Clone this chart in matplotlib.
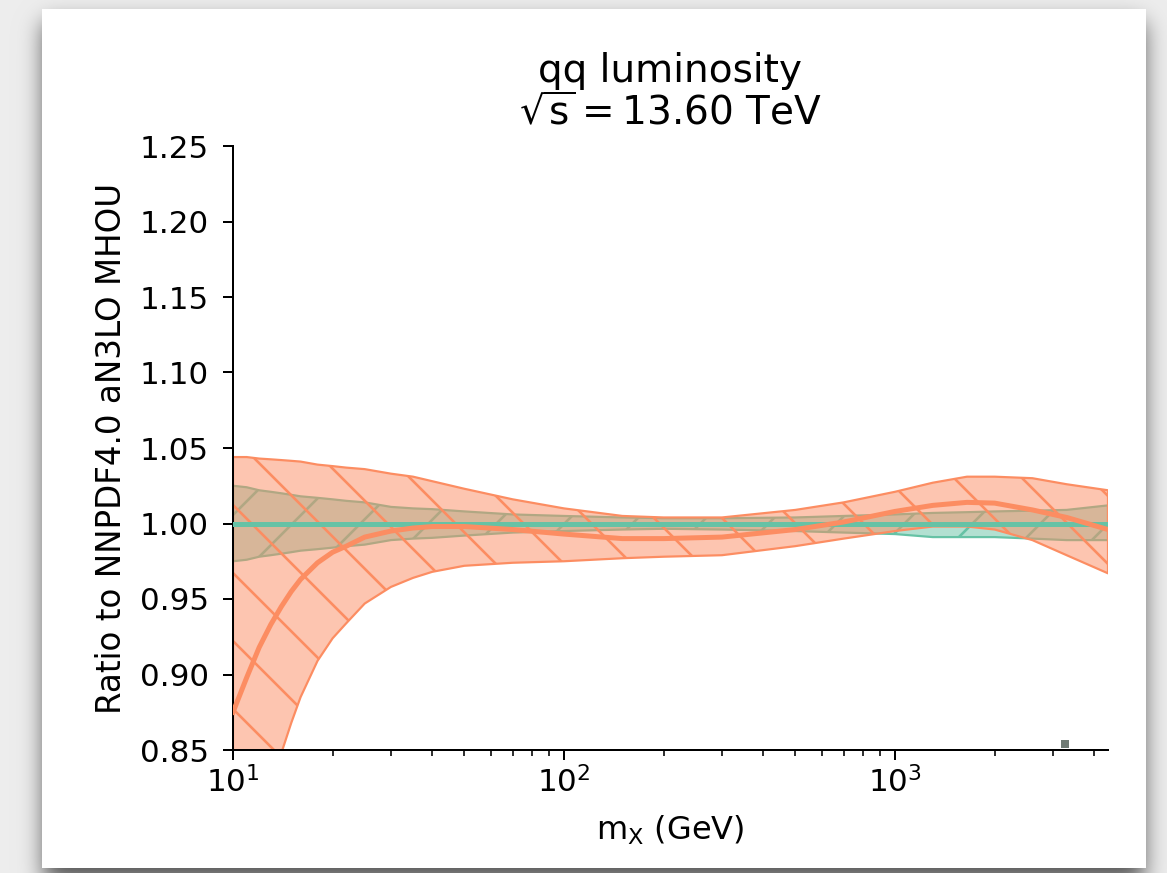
import math
import matplotlib
matplotlib.use('Agg')
import matplotlib.pyplot as plt
import numpy as np
from matplotlib.colors import to_rgba
from matplotlib.patches import Rectangle
from matplotlib.ticker import FormatStrFormatter

# invariant mass grid (GeV)
mx = np.array([10, 11, 12, 13, 14, 15, 16, 18, 20, 22, 25, 30, 35, 40, 50, 70, 100, 150,
               200, 300, 500, 700, 1000, 1300, 1650, 2000, 2600, 3300, 4400])

# reference set: ratio to itself, so central value is 1
ref_cv = np.ones(len(mx))
ref_hi = np.array([1.025, 1.024, 1.022, 1.021, 1.020, 1.019, 1.018, 1.017, 1.016, 1.015,
                   1.014, 1.011, 1.010, 1.0095, 1.008, 1.006, 1.005, 1.004, 1.0035, 1.0035,
                   1.004, 1.005, 1.006, 1.007, 1.0075, 1.008, 1.0085, 1.009, 1.012])
ref_lo = np.array([0.975, 0.976, 0.978, 0.979, 0.980, 0.981, 0.982, 0.983, 0.984, 0.985,
                   0.986, 0.989, 0.990, 0.9905, 0.992, 0.994, 0.995, 0.996, 0.9965, 0.996,
                   0.995, 0.994, 0.993, 0.991, 0.991, 0.991, 0.990, 0.989, 0.989])

# comparison set
alt_cv = np.array([0.875, 0.898, 0.918, 0.933, 0.945, 0.955, 0.963, 0.974, 0.981, 0.985,
                   0.991, 0.995, 0.997, 0.998, 0.998, 0.996, 0.993, 0.990, 0.990, 0.991,
                   0.996, 1.001, 1.008, 1.012, 1.014, 1.0135, 1.009, 1.004, 0.996])
alt_hi = np.array([1.044, 1.044, 1.043, 1.0425, 1.042, 1.0415, 1.041, 1.039, 1.038, 1.037,
                   1.036, 1.033, 1.031, 1.028, 1.023, 1.016, 1.010, 1.005, 1.004, 1.004,
                   1.009, 1.014, 1.021, 1.027, 1.031, 1.031, 1.030, 1.026, 1.022])
alt_lo = np.array([0.706, 0.752, 0.793, 0.824, 0.848, 0.868, 0.885, 0.909, 0.924, 0.934,
                   0.947, 0.958, 0.964, 0.968, 0.972, 0.974, 0.975, 0.977, 0.978, 0.979,
                   0.985, 0.990, 0.995, 0.998, 0.998, 0.996, 0.989, 0.979, 0.967])

yticks = [0.85, 0.90, 0.95, 1.00, 1.05, 1.10, 1.15, 1.20, 1.25]

green = '#66c2a5'
orange = '#fc8d62'

W, H = 1167, 873
DPI = 408
S = 72 / DPI  # pixels -> points

plt.rcParams['mathtext.default'] = 'regular'
plt.rcParams['hatch.linewidth'] = 2.6 * S

fig = plt.figure(figsize=(W / DPI, H / DPI), dpi=DPI)

# backdrop: white card with a soft drop shadow
erf = np.vectorize(math.erf)
px = np.arange(W) + 0.5
py = np.arange(H) + 0.5
s = 16.0
sx = 0.5 * (erf((px - 44) / s) - erf((px - 1144) / s))
sy = 0.5 * (erf((py - 22) / s) - erf((py - 882) / s))
val = 0.93 - 0.6 * np.outer(sy, sx)
card = np.outer((py >= 9) & (py < 868), (px >= 42) & (px < 1146))
val[card] = 1.0
bg = fig.add_axes([0, 0, 1, 1])
bg.imshow(np.dstack([val] * 3), extent=(0, W, H, 0), aspect='auto', interpolation='nearest')
bg.set_xlim(0, W)
bg.set_ylim(H, 0)
bg.axis('off')

ax = fig.add_axes([233 / W, 1 - 750 / H, (1108 - 233) / W, (750 - 146) / H])
ax.set_facecolor('white')

ax.fill_between(mx, ref_lo, ref_hi, facecolor=to_rgba(green, 0.5), edgecolor=green,
                hatch='//', linewidth=2.2 * S, zorder=1)
ax.fill_between(mx, alt_lo, alt_hi, facecolor=to_rgba(orange, 0.5), edgecolor=orange,
                hatch='\\\\', linewidth=2.2 * S, zorder=2)
ax.plot(mx, ref_cv, color=green, lw=5 * S, zorder=3)
ax.plot(mx, alt_cv, color=orange, lw=5 * S, zorder=4)

# empty legend frame
ax.add_patch(Rectangle((0.946, 0.003), 0.009, 0.013, transform=ax.transAxes,
                       facecolor='#6f7a74', edgecolor='none', zorder=5, clip_on=False))

ax.set_xscale('log')
ax.set_xlim(10, 4400)
ax.set_ylim(0.85, 1.25)
ax.set_yticks(yticks)
ax.yaxis.set_major_formatter(FormatStrFormatter('%.2f'))

for side in ('top', 'right'):
    ax.spines[side].set_visible(False)
for side in ('left', 'bottom'):
    ax.spines[side].set_linewidth(2 * S)

ax.tick_params(which='major', length=10 * S, width=2 * S, labelsize=31 * S)
ax.tick_params(axis='y', which='major', pad=14 * S)
ax.tick_params(axis='x', which='major', pad=6 * S)
ax.tick_params(which='minor', length=6 * S, width=1.6 * S)

ax.set_title('qq luminosity\n$\\sqrt{s} = 13.60$ TeV', fontsize=39 * S, pad=22 * S,
             linespacing=1.1)
ax.set_ylabel('Ratio to NNPDF4.0 aN3LO MHOU', fontsize=32.5 * S, labelpad=12 * S)
ax.set_xlabel('m$_X$ (GeV)', fontsize=32 * S, labelpad=15 * S)

fig.savefig('out.png', dpi=DPI)
